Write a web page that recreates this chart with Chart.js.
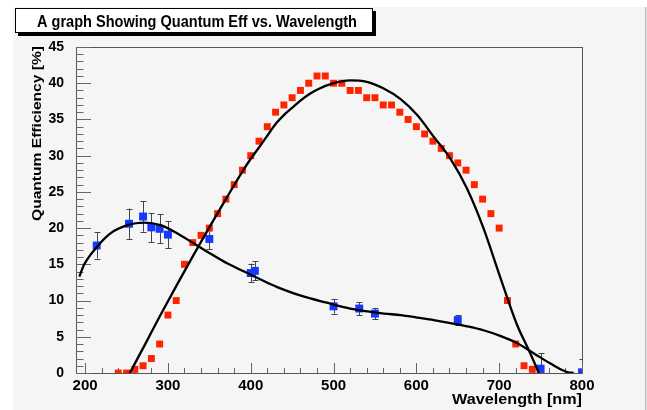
<!DOCTYPE html>
<html>
<head>
<meta charset="utf-8">
<title>Quantum Eff vs. Wavelength</title>
<script src="https://cdn.jsdelivr.net/npm/chart.js@4.4.1/dist/chart.umd.min.js"></script>
<style>
  html, body { margin: 0; padding: 0; background: #ffffff; }
  canvas { display: block; }
</style>
</head>
<body>
<canvas id="qeChart" width="647" height="410"></canvas>
<script>
// measured QE (red squares)
const redWavelength = [240, 250, 260, 270, 280, 290, 300, 310, 320, 330, 340, 350, 360, 370, 380, 390,
  400, 410, 420, 430, 440, 450, 460, 470, 480, 490, 500, 510, 520, 530, 540, 550, 560, 570, 580, 590,
  600, 610, 620, 630, 640, 650, 660, 670, 680, 690, 700, 710, 720, 730, 740, 750];
const redEff = [0, 0, 0.5, 1, 2, 4, 8, 10, 15, 18, 19, 20, 22, 24, 26, 28,
  30, 32, 34, 36, 37, 38, 39, 40, 41, 41, 40, 40, 39, 39, 38, 38, 37, 37, 36, 35,
  34, 33, 32, 31, 30, 29, 28, 26, 24, 22, 20, 10, 4, 1, 0.5, 0];

// measured QE with errors (blue squares)
const blueWavelength = [214, 253, 270, 280, 290, 300, 350, 400, 405, 500, 531, 550, 650, 750, 800];
const blueEff = [17.6, 20.6, 21.6, 20.1, 19.9, 19.1, 18.5, 13.8, 14.1, 9.2, 8.9, 8.2, 7.3, 0.6, 0.1];
const blueErr = [1.8, 2.1, 2.1, 2.0, 2.0, 1.9, 1.4, 1.3, 1.3, 1.0, 0.9, 0.8, 0.7, 2.1, 1.8];

// fit curves
const redFitX = [254, 274, 291, 311, 331, 351, 371, 391, 399, 411, 419, 431, 440, 451, 460, 471, 480, 500, 520, 540,
  560, 581, 601, 621, 641, 661, 681, 701, 721, 736, 748];
const redFitY = [0, 4.3, 8.0, 12.2, 16.3, 20.3, 24.2, 28.0, 29.4, 31.3, 32.6, 34.5, 35.6, 36.7, 37.6, 38.5, 39.1, 40.0, 40.4, 40.2,
  39.3, 37.8, 35.6, 32.6, 29.6, 25.5, 20.0, 13.3, 6.8, 3.1, 0];
const blueFitX = [193, 199, 215, 231, 251, 271, 291, 311, 331, 351, 372, 392, 412, 432, 452, 472, 492,
  500, 520, 541, 561, 581, 601, 621, 641, 661, 681, 702, 722, 742, 762, 782, 790];
const blueFitY = [13.3, 15.0, 17.5, 19.3, 20.4, 20.75, 20.4, 19.3, 17.9, 16.5, 15.1, 14.0, 12.9, 11.85, 11.0, 10.3, 9.7,
  9.45, 8.9, 8.5, 8.2, 8.0, 7.65, 7.3, 6.9, 6.45, 5.9, 5.1, 4.1, 2.7, 1.3, 0.14, 0];

const xTicks = [200, 300, 400, 500, 600, 700, 800];
const yTicks = [0, 5, 10, 15, 20, 25, 30, 35, 40, 45];

const FONT = '"Liberation Sans", Arial, Helvetica, sans-serif';
const RED = '#ff2400';
const BLUE = '#1438ff';

function pts(xs, ys) {
  return xs.map((x, i) => ({ x: x, y: ys[i] }));
}

// squeeze/stretch a string to the width it has in the picture
function fitText(ctx, text, x, y, width, align) {
  const w = ctx.measureText(text).width;
  ctx.save();
  ctx.translate(x, y);
  ctx.scale(width / w, 1);
  ctx.textAlign = align;
  ctx.fillText(text, 0, 0);
  ctx.restore();
}

const rootStyle = {
  id: 'rootStyle',
  beforeDraw(chart) {
    const ctx = chart.ctx;
    ctx.save();
    ctx.fillStyle = '#ffffff';
    ctx.fillRect(0, 0, chart.width, chart.height);
    ctx.fillStyle = '#f5f5f5';
    ctx.fillRect(13, 7, 632, 403);
    ctx.fillStyle = '#bdbdbd';
    ctx.fillRect(645, 7, 1.5, 403);
    ctx.restore();
  },
  beforeDatasetsDraw(chart) {
    const ctx = chart.ctx;
    const a = chart.chartArea;
    const xs = chart.scales.x;
    const ys = chart.scales.y;
    ctx.save();
    // frame
    ctx.strokeStyle = '#555555';
    ctx.lineWidth = 1;
    ctx.strokeRect(Math.round(a.left) + 0.5, Math.round(a.top) + 0.5,
      Math.round(a.right - a.left), Math.round(a.bottom - a.top));
    // ticks, inside the frame
    ctx.strokeStyle = '#666666';
    ctx.beginPath();
    for (let v = 0; v <= 45; v += 1) {
      const py = Math.round(ys.getPixelForValue(v)) + 0.5;
      const len = v % 5 === 0 ? 15 : 7.5;
      ctx.moveTo(a.left, py);
      ctx.lineTo(a.left + len, py);
    }
    for (let v = 200; v <= 800; v += 20) {
      const px = Math.round(xs.getPixelForValue(v)) + 0.5;
      const len = v % 100 === 0 ? 10 : 5;
      ctx.moveTo(px, a.bottom);
      ctx.lineTo(px, a.bottom - len);
    }
    ctx.stroke();
    // error bars of the blue graph
    ctx.beginPath();
    ctx.rect(a.left, a.top, a.right - a.left, a.bottom - a.top);
    ctx.clip();
    ctx.strokeStyle = '#444444';
    ctx.beginPath();
    blueWavelength.forEach((w, i) => {
      const px = Math.round(xs.getPixelForValue(w)) + 0.5;
      const top = ys.getPixelForValue(blueEff[i] + blueErr[i]);
      const bot = ys.getPixelForValue(blueEff[i] - blueErr[i]);
      ctx.moveTo(px, top);
      ctx.lineTo(px, bot);
      ctx.moveTo(px - 3, Math.round(top) + 0.5);
      ctx.lineTo(px + 3, Math.round(top) + 0.5);
      ctx.moveTo(px - 3, Math.round(bot) + 0.5);
      ctx.lineTo(px + 3, Math.round(bot) + 0.5);
    });
    ctx.stroke();
    ctx.restore();
  },
  afterDraw(chart) {
    const ctx = chart.ctx;
    ctx.save();
    // title pave with shadow
    ctx.fillStyle = '#000000';
    ctx.fillRect(18, 33, 358, 3);
    ctx.fillRect(373, 11, 3, 25);
    ctx.fillStyle = '#ffffff';
    ctx.fillRect(15, 8, 358, 25);
    ctx.strokeStyle = '#000000';
    ctx.lineWidth = 1;
    ctx.strokeRect(15.5, 8.5, 357, 24);
    ctx.fillStyle = '#000000';
    ctx.textBaseline = 'alphabetic';
    ctx.font = 'bold 16px ' + FONT;
    fitText(ctx, 'A graph Showing Quantum Eff vs. Wavelength', 197, 27, 320, 'center');
    // axis titles
    ctx.font = 'bold 15px ' + FONT;
    fitText(ctx, 'Wavelength [nm]', 582, 404, 130, 'right');
    ctx.save();
    ctx.translate(41, 46);
    ctx.rotate(-Math.PI / 2);
    ctx.font = 'bold 13px ' + FONT;
    fitText(ctx, 'Quantum Efficiency [%]', 0, 0, 175, 'right');
    ctx.restore();
    ctx.restore();
  }
};

const lineStyle = {
  showLine: true,
  pointRadius: 0,
  borderColor: '#000000',
  borderWidth: 2.3,
  cubicInterpolationMode: 'monotone',
  fill: false
};

const qeChart = new Chart(document.getElementById('qeChart'), {
  type: 'scatter',
  data: {
    datasets: [
      Object.assign({ label: 'red fit', data: pts(redFitX, redFitY) }, lineStyle),
      Object.assign({ label: 'blue fit', data: pts(blueFitX, blueFitY) }, lineStyle),
      {
        label: 'blue',
        data: pts(blueWavelength, blueEff),
        pointStyle: 'rect',
        pointRadius: 5.6,
        pointBorderWidth: 0,
        backgroundColor: BLUE,
        borderColor: BLUE
      },
      {
        label: 'red',
        data: pts(redWavelength, redEff),
        pointStyle: 'rect',
        pointRadius: 4.9,
        pointBorderWidth: 0,
        backgroundColor: RED,
        borderColor: RED
      }
    ]
  },
  options: {
    responsive: false,
    animation: false,
    devicePixelRatio: 1,
    layout: { padding: { top: 47, right: 65, left: 0, bottom: 0 } },
    plugins: { legend: { display: false }, tooltip: { enabled: false } },
    scales: {
      x: {
        type: 'linear',
        min: 189,
        max: 800,
        afterBuildTicks: (scale) => { scale.ticks = xTicks.map(v => ({ value: v })); },
        afterFit: (scale) => { scale.height = 37; },
        grid: { display: false },
        border: { display: false },
        ticks: {
          autoSkip: false,
          maxRotation: 0,
          padding: -4,
          color: '#000000',
          font: { family: FONT, size: 15, weight: 'bold' }
        }
      },
      y: {
        type: 'linear',
        min: 0,
        max: 45,
        afterBuildTicks: (scale) => { scale.ticks = yTicks.map(v => ({ value: v })); },
        afterFit: (scale) => { scale.width = 76; },
        grid: { display: false },
        border: { display: false },
        ticks: {
          autoSkip: false,
          padding: 4,
          color: '#000000',
          font: { family: FONT, size: 14, weight: 'bold' }
        }
      }
    }
  },
  plugins: [rootStyle]
});
</script>
</body>
</html>
